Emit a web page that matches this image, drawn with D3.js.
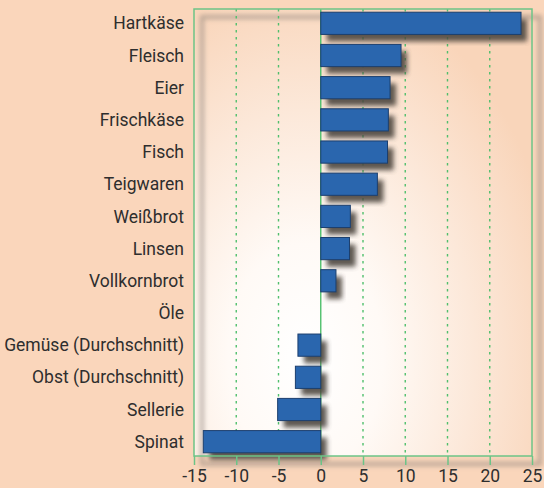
<html>
<head>
  <meta charset="utf-8">
  <title>Hartkäse bis Spinat</title>
</head>
<style>
  body {
    margin: 0;
    background: #fad6bb;
  }
  svg {
    display: block;
  }
  .label, .tick text {
    font-family: Roboto, "Liberation Sans", sans-serif;
    font-size: 17.5px;
    fill: #2e2e2e;
  }
</style>
<body>
  <div id="chart"></div>
</body>
<script src="https://cdn.jsdelivr.net/npm/d3@7"></script>
<script>

  // Werte
  let foods = ["Hartkäse", "Fleisch", "Eier", "Frischkäse", "Fisch", "Teigwaren", "Weißbrot",
    "Linsen", "Vollkornbrot", "Öle", "Gemüse (Durchschnitt)", "Obst (Durchschnitt)", "Sellerie", "Spinat"];
  let values = [23.7, 9.5, 8.2, 8.0, 7.9, 6.7, 3.5, 3.4, 1.8, 0, -2.7, -3.0, -5.1, -13.9];
  let ticks = [-15, -10, -5, 0, 5, 10, 15, 20, 25];

  let width = 544, height = 488;
  let plotL = 194, plotR = 532, plotT = 9, plotB = 456;

  let x = d3.scaleLinear()
    .domain([-15, 25])
    .range([plotL, plotR]);

  let y = d3.scaleBand()
    .domain(foods)
    .range([plotT, plotB])
    .paddingInner(0.31)
    .paddingOuter(0.1);

  let svg = d3.select("#chart").append("svg")
    .attr("width", width)
    .attr("height", height);

  let defs = svg.append("defs");

  let grad = defs.append("radialGradient")
    .attr("id", "bg")
    .attr("cx", "0.33").attr("cy", "0.78")
    .attr("r", "0.85")
    .attr("gradientTransform", "translate(0.33,0.78) scale(0.9,1) translate(-0.33,-0.78)");
  grad.append("stop").attr("offset", "0").attr("stop-color", "#ffffff");
  grad.append("stop").attr("offset", "0.3").attr("stop-color", "#fffaf6");
  grad.append("stop").attr("offset", "0.65").attr("stop-color", "#fce8d9");
  grad.append("stop").attr("offset", "1").attr("stop-color", "#f9d5ba");

  let shadow = defs.append("filter").attr("id", "blur")
    .attr("x", "-20%").attr("y", "-20%").attr("width", "140%").attr("height", "140%");
  shadow.append("feGaussianBlur").attr("stdDeviation", 2.6);

  // Hintergrund der Zeichenfläche
  svg.append("rect")
    .attr("x", plotL).attr("y", plotT)
    .attr("width", plotR - plotL).attr("height", plotB - plotT)
    .attr("fill", "url(#bg)");

  // Schatten des Rahmens
  svg.append("rect")
    .attr("x", plotL + 8).attr("y", plotT + 8)
    .attr("width", plotR - plotL).attr("height", plotB - plotT)
    .attr("fill", "none")
    .attr("stroke", "#8a8078").attr("stroke-width", 3.5).attr("opacity", 0.65)
    .attr("filter", "url(#blur)");

  // Gitterlinien mit Schatten
  let gridVals = ticks.filter(d => d > -15 && d < 25);
  svg.append("g").selectAll("line")
    .data(gridVals)
    .join("line")
    .attr("x1", d => x(d) + 7).attr("x2", d => x(d) + 7)
    .attr("y1", plotT + 8).attr("y2", plotB + 6)
    .attr("stroke", "#9a928c").attr("stroke-width", 3).attr("opacity", 0.45)
    .attr("filter", "url(#blur)");

  svg.append("g").selectAll("line")
    .data(gridVals)
    .join("line")
    .attr("x1", d => x(d)).attr("x2", d => x(d))
    .attr("y1", plotT).attr("y2", plotB)
    .attr("stroke", "#4fbf6c").attr("stroke-width", 1.4)
    .attr("stroke-dasharray", d => d === 0 ? null : "2.5,4.5");

  // Balkenschatten
  svg.append("g").selectAll("rect")
    .data(values)
    .join("rect")
    .attr("x", d => Math.min(x(0), x(d)) + 6)
    .attr("y", (d, i) => y(foods[i]) + 7)
    .attr("width", d => Math.abs(x(d) - x(0)))
    .attr("height", y.bandwidth())
    .attr("fill", "#4e4640").attr("opacity", 0.9)
    .attr("filter", "url(#blur)");

  // Balken
  svg.append("g").selectAll("rect")
    .data(values)
    .join("rect")
    .attr("x", d => Math.min(x(0), x(d)))
    .attr("y", (d, i) => y(foods[i]))
    .attr("width", d => Math.abs(x(d) - x(0)))
    .attr("height", y.bandwidth())
    .attr("fill", "#2a66ae")
    .attr("stroke", "#1c3f6e").attr("stroke-width", 1);

  // Rahmen
  svg.append("rect")
    .attr("x", plotL).attr("y", plotT)
    .attr("width", plotR - plotL).attr("height", plotB - plotT)
    .attr("fill", "none")
    .attr("stroke", "#6cc487").attr("stroke-width", 1.5);

  // Kategorien
  svg.append("g").selectAll("text")
    .data(foods)
    .join("text")
    .attr("class", "label")
    .attr("x", plotL - 10)
    .attr("y", d => y(d) + y.bandwidth() / 2)
    .attr("dy", "0.35em")
    .attr("text-anchor", "end")
    .text(d => d);

  // x-Achse
  let axis = svg.append("g")
    .attr("transform", `translate(0,${plotB})`)
    .call(d3.axisBottom(x).tickValues(ticks).tickSize(9).tickPadding(5).tickFormat(d => String(d)));
  axis.select(".domain").remove();
  axis.selectAll(".tick line").attr("stroke", "#6cc487").attr("stroke-width", 1.5);
  axis.selectAll(".tick text").attr("fill", "#2e2e2e");

</script>
</html>
